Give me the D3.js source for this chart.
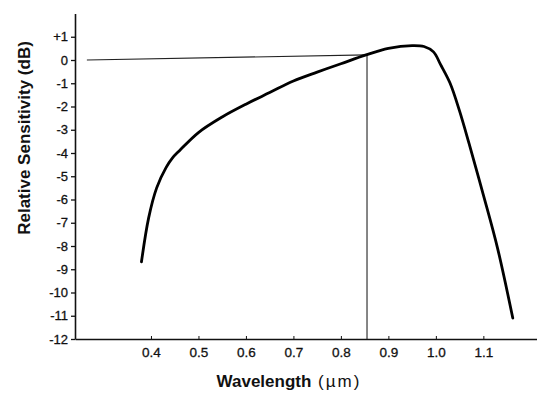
<!DOCTYPE html>
<html>
<head>
<meta charset="utf-8">
<script src="https://cdn.jsdelivr.net/npm/d3@7"></script>
<style>
  body { margin: 0; background: #fff; }
  svg { display: block; font-family: "Liberation Sans", Arial, sans-serif; }
</style>
</head>
<body>
<svg id="chart" width="537" height="394"></svg>
<script>
// curve
var wavelength  = [0.380, 0.395, 0.412, 0.432, 0.445, 0.460, 0.500, 0.550, 0.600, 0.650, 0.700, 0.750, 0.800, 0.853, 0.900, 0.950, 0.975, 0.995, 1.010, 1.030, 1.050, 1.070, 1.100, 1.130, 1.162];
var sensitivity = [-8.68, -6.80, -5.50, -4.62, -4.22, -3.90, -3.12, -2.45, -1.90, -1.40, -0.90, -0.52, -0.16, 0.22, 0.50, 0.62, 0.58, 0.35, -0.20, -1.00, -2.20, -3.60, -5.80, -8.10, -11.1];

// guide lines to the 0 dB point
var guideX = [0.265, 0.855];
var guideY = [0, 0.22];

var xTicks = [0.4, 0.5, 0.6, 0.7, 0.8, 0.9, 1.0, 1.1];
var xTickLabels = ["0.4", "0.5", "0.6", "0.7", "0.8", "0.9", "1.0", "1.1"];
var yTicks = [1, 0, -1, -2, -3, -4, -5, -6, -7, -8, -9, -10, -11, -12];

var svg = d3.select("#chart");

var x = d3.scaleLinear().domain([0.24, 1.213]).range([75, 537]);
var y = d3.scaleLinear().domain([-12, 2]).range([339, 13.5]);

var xAxis = svg.append("g")
    .attr("transform", "translate(0," + y(-12) + ")")
    .call(d3.axisBottom(x)
        .tickValues(xTicks)
        .tickFormat(function (d, i) { return xTickLabels[i]; })
        .tickSizeInner(-3)
        .tickSizeOuter(0)
        .tickPadding(8));
xAxis.select(".domain").attr("stroke", "#111").attr("stroke-width", 1.6);
xAxis.selectAll(".tick line").attr("stroke", "#111");
xAxis.selectAll("text").style("font-size", "13.5px").attr("fill", "#111")
    .attr("stroke", "#111").attr("stroke-width", 0.3);

var yAxis = svg.append("g")
    .attr("transform", "translate(" + x(0.24) + ",0)")
    .call(d3.axisLeft(y)
        .tickValues(yTicks)
        .tickFormat(function (d) { return d > 0 ? "+" + d : d; })
        .tickSizeInner(4)
        .tickSizeOuter(0)
        .tickPadding(3));
yAxis.select(".domain").attr("stroke", "#111").attr("stroke-width", 1.6);
yAxis.selectAll(".tick line").attr("stroke", "#111").attr("stroke-width", 1.3);
yAxis.selectAll("text").style("font-size", "13px").attr("fill", "#111")
    .attr("stroke", "#111").attr("stroke-width", 0.3);

// thin guide lines
svg.append("line")
    .attr("x1", x(guideX[0])).attr("y1", y(guideY[0]))
    .attr("x2", x(guideX[1])).attr("y2", y(guideY[1]))
    .attr("stroke", "#222").attr("stroke-width", 1.1);
svg.append("line")
    .attr("x1", x(guideX[1])).attr("y1", y(-12))
    .attr("x2", x(guideX[1])).attr("y2", y(guideY[1]))
    .attr("stroke", "#222").attr("stroke-width", 1.1);

var line = d3.line()
    .x(function (d, i) { return x(wavelength[i]); })
    .y(function (d) { return y(d); })
    .curve(d3.curveCatmullRom.alpha(0.5));

svg.append("path")
    .datum(sensitivity)
    .attr("d", line)
    .attr("fill", "none")
    .attr("stroke", "#000")
    .attr("stroke-width", 2.8)
    .attr("stroke-linejoin", "round")
    .attr("stroke-linecap", "round");

// axis titles
var xt = svg.append("text")
    .attr("x", 289)
    .attr("y", 387)
    .attr("text-anchor", "middle")
    .attr("fill", "#111")
    .style("font-size", "17px");
xt.append("tspan").style("font-weight", "bold").text("Wavelength");
xt.append("tspan").style("letter-spacing", "2px").text(" (µm)");

svg.append("text")
    .attr("transform", "translate(30,138) rotate(-90)")
    .attr("text-anchor", "middle")
    .attr("fill", "#111")
    .style("font-size", "17px")
    .style("font-weight", "bold")
    .text("Relative Sensitivity (dB)");
</script>
</body>
</html>
